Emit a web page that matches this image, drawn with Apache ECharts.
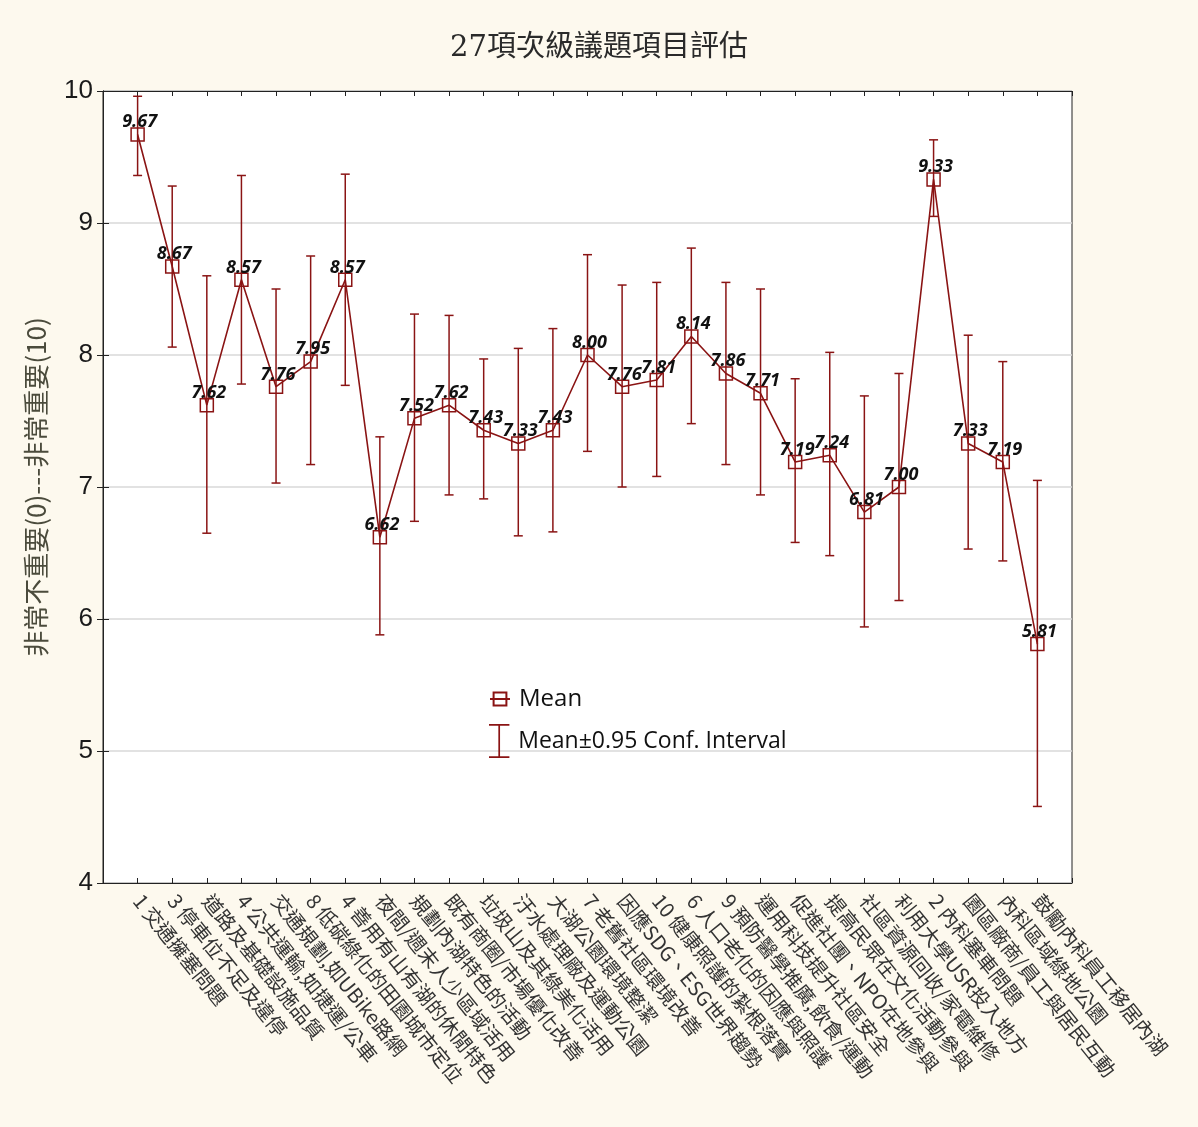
<!DOCTYPE html>
<html>
<head>
<meta charset="utf-8">
<script src="https://cdn.jsdelivr.net/npm/echarts@6/dist/echarts.min.js"></script>
<style>
html,body{margin:0;padding:0;background:#fdf9ee;}
#chart{width:1198px;height:1127px;}
</style>
</head>
<body>
<div id="chart"></div>
<script>
const categories = [
  "1 交通擁塞問題",
  "3 停車位不足及違停",
  "道路及基礎設施品質",
  "4 公共運輸,如捷運/公車",
  "交通規劃,如UBike路網",
  "8 低碳綠化的田園城市定位",
  "4 善用有山有湖的休閒特色",
  "夜間/週末人少區域活用",
  "規劃內湖特色的活動",
  "既有商圈/市場優化改善",
  "垃圾山及其綠美化活用",
  "汙水處理廠及運動公園",
  "大湖公園環境整潔",
  "7 老舊社區環境改善",
  "因應SDG、ESG世界趨勢",
  "10 健康照護的紮根落實",
  "6 人口老化的因應與照護",
  "9 預防醫學推廣,飲食/運動",
  "運用科技提升社區安全",
  "促進社團、NPO在地參與",
  "提高民眾在文化活動參與",
  "社區資源回收/家電維修",
  "利用大學USR投入地方",
  "2 內科塞車問題",
  "園區廠商/員工與居民互動",
  "內科區域綠地公園",
  "鼓勵內科員工移居內湖"
];
const means = [9.67, 8.67, 7.62, 8.57, 7.76, 7.95, 8.57, 6.62, 7.52, 7.62, 7.43, 7.33, 7.43, 8.00, 7.76, 7.81, 8.14, 7.86, 7.71, 7.19, 7.24, 6.81, 7.00, 9.33, 7.33, 7.19, 5.81];
const upper = [9.96, 9.28, 8.60, 9.36, 8.50, 8.75, 9.37, 7.38, 8.31, 8.30, 7.97, 8.05, 8.20, 8.76, 8.53, 8.55, 8.81, 8.55, 8.50, 7.82, 8.02, 7.69, 7.86, 9.63, 8.15, 7.95, 7.05];
const lower = [9.36, 8.06, 6.65, 7.78, 7.03, 7.17, 7.77, 5.88, 6.74, 6.94, 6.91, 6.63, 6.66, 7.27, 7.00, 7.08, 7.48, 7.17, 6.94, 6.58, 6.48, 5.94, 6.14, 9.05, 6.53, 6.44, 4.58];
const yTicks = [4, 5, 6, 7, 8, 9, 10];

const RED = '#8a1414';
const chart = echarts.init(document.getElementById('chart'));

const meanData = means.map((v, i) => [i + 1, v]);
const ciData = lower.map((l, i) => [i + 1, l, upper[i]]);

const option = {
  backgroundColor: '#fdf9ee',
  animation: false,
  title: {
    text: '27項次級議題項目評估',
    left: 'center',
    top: 29,
    textStyle: {fontFamily: "'DejaVu Serif','Noto Sans CJK TC',serif", fontSize: 29, fontWeight: 'normal', color: '#2a2a2a'}
  },
  grid: {left: 103, right: 126, top: 91, bottom: 244, show: true, backgroundColor: '#ffffff', borderColor: '#222', borderWidth: 1},
  legend: [
    {
      data: ['Mean'],
      orient: 'vertical',
      left: 484,
      top: 682,
      itemWidth: 20,
      itemHeight: 16,
      textStyle: {fontFamily: "'Open Sans',sans-serif", fontSize: 24, color: '#111', padding: [0, 0, 0, 4]}
    },
    {
      data: [{name: 'Mean±0.95 Conf. Interval', icon: 'path://M0,0H24V2H13V38H24V40H0V38H11V2H0Z'}],
      orient: 'vertical',
      left: 484,
      top: 719,
      itemWidth: 22,
      itemHeight: 34,
      textStyle: {fontFamily: "'Open Sans',sans-serif", fontSize: 23, color: '#111', padding: [4, 0, 0, 3]}
    }
  ],
  xAxis: [
    {
      type: 'value', min: 0, max: 28, interval: 1, position: 'bottom',
      axisLine: {show: true, lineStyle: {color: '#222'}},
      axisTick: {show: true, inside: true, length: 5, lineStyle: {color: '#222'}},
      splitLine: {show: false},
      axisLabel: {
        rotate: -51, margin: 14, fontSize: 20,
        fontFamily: "'Noto Sans CJK TC',sans-serif", color: '#333',
        formatter: v => (v >= 1 && v <= categories.length) ? categories[v - 1] : ''
      }
    },
    {
      type: 'value', min: 0, max: 28, interval: 1, position: 'top',
      axisLine: {show: true, lineStyle: {color: '#222'}},
      axisTick: {show: true, inside: true, length: 5, lineStyle: {color: '#222'}},
      splitLine: {show: false},
      axisLabel: {show: false}
    }
  ],
  yAxis: [
    {
      type: 'value', min: yTicks[0], max: yTicks[yTicks.length - 1], interval: 1, position: 'left',
      name: '非常不重要(0)---非常重要(10)',
      nameLocation: 'middle', nameGap: 54, nameRotate: 90,
      nameTextStyle: {fontFamily: "'Noto Sans CJK TC',sans-serif", fontSize: 26, color: '#4b4b3c'},
      axisLine: {show: true, lineStyle: {color: '#222'}},
      axisTick: {show: true, inside: true, length: 6, lineStyle: {color: '#222'}},
      splitLine: {show: true, lineStyle: {color: '#d9d9d9', width: 1.5}},
      axisLabel: {margin: 10, fontSize: 26, fontFamily: "'Liberation Sans Narrow','Liberation Sans',sans-serif", color: '#1a1a1a'}
    },
    {
      type: 'value', min: yTicks[0], max: yTicks[yTicks.length - 1], interval: 1, position: 'right',
      axisLine: {show: true, lineStyle: {color: '#222'}},
      axisTick: {show: true, inside: true, length: 6, lineStyle: {color: '#222'}},
      splitLine: {show: false},
      axisLabel: {show: false}
    }
  ],
  series: [
    {
      name: 'Mean±0.95 Conf. Interval',
      type: 'custom',
      xAxisIndex: 0, yAxisIndex: 0,
      itemStyle: {color: RED},
      encode: {x: 0, y: [1, 2]},
      data: ciData,
      z: 2,
      renderItem: function (params, api) {
        const x = api.value(0);
        const lo = api.coord([x, api.value(1)]);
        const hi = api.coord([x, api.value(2)]);
        const w = 4.5;
        const st = {stroke: RED, lineWidth: 1.5};
        return {
          type: 'group',
          children: [
            {type: 'line', shape: {x1: lo[0], y1: lo[1], x2: hi[0], y2: hi[1]}, style: st},
            {type: 'line', shape: {x1: lo[0] - w, y1: lo[1], x2: lo[0] + w, y2: lo[1]}, style: st},
            {type: 'line', shape: {x1: hi[0] - w, y1: hi[1], x2: hi[0] + w, y2: hi[1]}, style: st}
          ]
        };
      }
    },
    {
      name: 'Mean',
      type: 'line',
      xAxisIndex: 0, yAxisIndex: 0,
      data: meanData,
      symbol: 'rect',
      symbolSize: 13,
      z: 3,
      lineStyle: {color: RED, width: 1.6},
      itemStyle: {color: 'rgba(255,255,255,0)', borderColor: RED, borderWidth: 1.5},
      label: {
        show: true, position: 'top', distance: -4, offset: [2, 0],
        fontFamily: "'Open Sans',sans-serif", fontStyle: 'italic', fontWeight: 'bold', fontSize: 18, color: '#111',
        formatter: p => p.value[1].toFixed(2)
      }
    }
  ]
};
chart.setOption(option);
</script>
</body>
</html>
